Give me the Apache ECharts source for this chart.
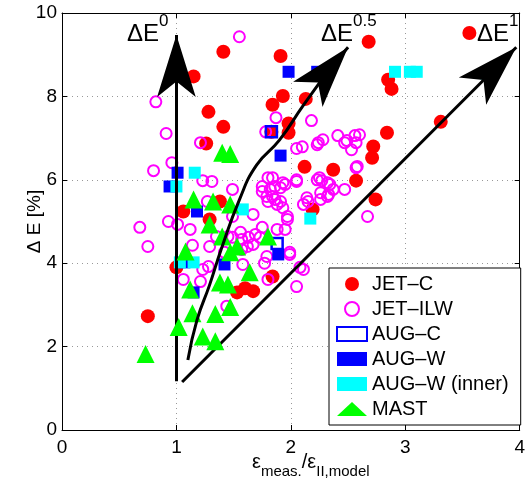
<!DOCTYPE html>
<html lang="en">
<head>
<meta charset="UTF-8">
<title>Delta E vs emissivity ratio</title>
<script src="https://cdn.jsdelivr.net/npm/echarts@6/dist/echarts.min.js"></script>
<style>
  * { margin: 0; padding: 0; box-sizing: border-box; }
  body { background: #fff; }
  #chart { width: 528px; height: 485px; }
</style>
</head>
<body>
<div id="chart"></div>
<script>
// data: [eps_meas/eps_model, Delta E %]
const jetC = [
  [0.75, 2.73], [1.00, 3.90], [1.06, 5.24], [1.15, 8.48], [1.26, 6.87], [1.28, 7.63],
  [1.41, 7.27], [1.41, 9.07], [1.29, 5.05], [1.38, 5.48], [1.53, 3.30], [1.60, 3.40],
  [1.67, 3.33], [1.84, 3.68], [1.83, 7.15], [1.84, 7.80], [1.91, 8.97], [1.93, 8.01],
  [1.98, 7.35], [1.98, 7.13], [2.13, 7.94], [2.12, 6.31], [2.37, 6.24], [2.19, 5.29],
  [2.57, 5.98], [2.74, 5.53], [2.68, 9.31], [2.71, 6.53], [2.72, 6.80], [2.84, 7.13],
  [2.85, 8.40], [2.88, 8.18], [3.31, 7.39], [3.56, 9.52]
];
const jetILW = [
  [0.68, 4.86], [0.75, 4.40], [0.80, 6.22], [0.82, 7.87], [0.91, 7.11], [0.96, 6.41],
  [0.93, 5.00], [1.01, 4.93], [1.12, 4.81], [1.14, 4.43], [1.29, 4.40], [1.35, 4.64],
  [1.28, 3.92], [1.06, 3.61], [1.21, 3.56], [1.23, 5.98], [1.31, 5.96], [1.27, 5.48],
  [1.49, 5.77], [1.55, 9.43], [1.87, 7.49], [1.78, 7.15], [2.18, 7.42], [2.10, 6.79],
  [2.24, 6.89], [2.28, 6.96], [2.41, 7.06], [2.49, 6.94], [2.56, 7.06], [2.57, 6.89],
  [2.60, 7.08], [2.53, 6.72], [2.23, 6.84], [2.05, 6.75], [2.57, 6.29], [2.25, 6.05],
  [2.27, 5.98], [2.05, 6.00], [1.93, 5.93], [1.91, 5.81], [1.84, 6.05], [1.82, 5.77],
  [1.91, 5.48], [1.86, 5.53], [2.34, 5.89], [2.37, 5.77], [2.47, 5.77], [2.32, 5.60],
  [2.26, 5.53], [2.15, 5.48], [2.11, 5.41], [1.97, 5.12], [2.67, 5.12], [1.75, 5.84],
  [1.80, 6.05], [1.86, 5.84], [1.79, 5.60], [1.21, 6.89], [2.47, 6.89], [2.58, 6.32],
  [1.95, 5.89], [2.05, 5.96], [1.75, 5.72], [1.84, 5.60], [1.80, 5.48], [1.88, 5.41],
  [2.23, 6.00], [2.32, 5.93], [2.26, 5.69], [2.33, 5.65], [2.14, 5.57], [1.97, 5.05],
  [1.95, 4.81], [1.88, 4.81], [1.75, 4.86], [1.69, 4.69], [1.63, 4.62], [1.57, 4.57],
  [1.62, 4.40], [1.67, 4.45], [1.57, 4.33], [1.49, 4.62], [1.56, 4.74], [1.45, 4.64],
  [1.42, 4.26], [1.79, 4.16], [1.99, 4.21], [1.77, 4.00], [1.58, 3.97], [1.80, 3.61],
  [2.08, 3.90], [2.05, 3.44], [1.49, 5.12], [1.67, 5.17], [1.73, 4.62], [1.23, 3.85],
  [1.44, 2.97], [1.93, 5.33], [1.99, 4.26], [2.11, 3.85]
];
const augC = [[1.83, 7.15], [1.88, 4.47]];
const augW = [
  [1.98, 8.59], [2.23, 8.59], [1.91, 6.58], [1.89, 4.21], [1.42, 3.97], [1.01, 6.17],
  [0.94, 5.84], [1.18, 5.24], [1.07, 4.02], [1.15, 3.30]
];
const augWInner = [
  [2.91, 8.59], [3.04, 8.59], [3.10, 8.59], [3.71, 8.55], [1.16, 6.17], [1.00, 5.84],
  [1.03, 4.02], [1.15, 4.02], [1.58, 5.29], [2.17, 5.07]
];
const mast = [
  [1.40, 6.65], [1.47, 6.62], [1.15, 5.53], [1.32, 5.48], [1.47, 5.41], [1.29, 4.93],
  [1.08, 4.28], [1.40, 4.64], [1.53, 4.40], [1.47, 4.26], [1.80, 4.64], [1.64, 3.78],
  [1.38, 3.54], [1.45, 3.49], [1.12, 3.37], [1.47, 2.95], [1.34, 2.78], [1.14, 2.80],
  [1.02, 2.47], [1.23, 2.24], [1.34, 2.13], [0.73, 1.82]
];

// guide arrows, [start, tip]
const arrowE0 = [[1.0, 1.17], [1.0, 9.47]];
const arrowE1 = [[1.05, 1.15], [3.97, 9.18]];
const curveE05 = [
  [1.10, 1.68], [1.18, 2.64], [1.29, 3.48], [1.39, 4.32], [1.55, 5.52],
  [1.70, 6.35], [1.90, 6.95], [2.11, 7.79], [2.36, 8.73]
];
const headE05 = [[2.36, 8.73], [2.50, 9.18]];

const FONT = 'Liberation Sans, Arial, Helvetica, sans-serif';

const chart = echarts.init(document.getElementById('chart'));

const axisCommon = {
  axisLine: { show: true, onZero: false, lineStyle: { color: '#000', width: 1 } },
  axisTick: { show: true, inside: true, length: 5, lineStyle: { color: '#000' } }
};

function scatter(name, data, symbol, size, itemStyle, z) {
  return {
    name: name, type: 'scatter', data: data, symbol: symbol, symbolSize: size,
    itemStyle: Object.assign({ opacity: 1 }, itemStyle), z: z, animation: false
  };
}

const supRich = {
  b: { fontSize: 24, lineHeight: 33, verticalAlign: 'bottom', fontFamily: FONT },
  s: { fontSize: 17, verticalAlign: 'top', fontFamily: FONT }
};

chart.setOption({
  animation: false,
  textStyle: { fontFamily: FONT },
  grid: { left: 62, right: 6, top: 13, bottom: 55 },
  xAxis: [
    Object.assign({
      type: 'value', min: 0, max: 4, interval: 1, position: 'bottom',
      axisLabel: { color: '#000', fontSize: 19, margin: 8, fontFamily: FONT },
      splitLine: { show: true, lineStyle: { color: '#999', type: [1, 4], width: 1 } }
    }, axisCommon),
    Object.assign({
      type: 'value', min: 0, max: 4, interval: 1, position: 'top',
      axisLabel: { show: false }, splitLine: { show: false }
    }, axisCommon)
  ],
  yAxis: [
    Object.assign({
      type: 'value', min: 0, max: 10, interval: 2, position: 'left',
      name: 'Δ E [%]', nameLocation: 'middle', nameGap: 18, nameRotate: 90,
      nameMoveOverlap: false,
      nameTextStyle: { color: '#000', fontSize: 19, fontFamily: FONT },
      axisLabel: { color: '#000', fontSize: 19, margin: 5, fontFamily: FONT },
      splitLine: { show: true, lineStyle: { color: '#999', type: [1, 4], width: 1 } }
    }, axisCommon),
    Object.assign({
      type: 'value', min: 0, max: 10, interval: 2, position: 'right',
      axisLabel: { show: false }, splitLine: { show: false }
    }, axisCommon)
  ],
  legend: {
    data: ['JET–C', 'JET–ILW', 'AUG–C', 'AUG–W', 'AUG–W (inner)', 'MAST'],
    orient: 'vertical',
    left: 329, top: 268,
    padding: [6, 12, 6, 7],
    itemWidth: 30, itemHeight: 14, itemGap: 5,
    backgroundColor: '#fff',
    borderColor: '#000', borderWidth: 1, borderRadius: 0,
    textStyle: { color: '#000', fontSize: 20, lineHeight: 20, fontFamily: FONT },
    selectedMode: false
  },
  series: [
    scatter('JET–C', jetC, 'circle', 14, { color: '#ff0000' }, 2),
    scatter('JET–ILW', jetILW, 'circle', 11,
      { color: 'rgba(255,255,255,0)', borderColor: '#ff00ff', borderWidth: 2 }, 3),
    scatter('AUG–C', augC, 'rect', 11,
      { color: 'rgba(255,255,255,0)', borderColor: '#0000ff', borderWidth: 2.5 }, 4),
    scatter('AUG–W', augW, 'rect', 12, { color: '#0000ff' }, 4),
    scatter('AUG–W (inner)', augWInner, 'rect', 12, { color: '#00ffff' }, 4),
    scatter('MAST', mast, 'triangle', 18, { color: '#00ff00' }, 5),
    {
      name: 'guides', type: 'line', data: curveE05, smooth: true, symbol: 'none',
      lineStyle: { color: '#000', width: 3 }, z: 10, silent: true, animation: false,
      markLine: {
        silent: true, animation: false,
        symbol: ['none', 'arrow'], symbolSize: [29, 62],
        lineStyle: { color: '#000', width: 3, type: 'solid' },
        itemStyle: { color: '#000' },
        label: { show: false },
        emphasis: { disabled: true },
        data: [
          [{ coord: arrowE0[0] }, { coord: arrowE0[1] }],
          [{ coord: arrowE1[0] }, { coord: arrowE1[1] }],
          [{ coord: headE05[0] }, { coord: headE05[1] }]
        ]
      }
    }
  ],
  graphic: [
    { type: 'text', left: 127, top: 13, z: 20,
      style: { text: '{b|ΔE}{s|0}', fill: '#000', rich: supRich } },
    { type: 'text', left: 321, top: 13, z: 20,
      style: { text: '{b|ΔE}{s|0.5}', fill: '#000', rich: supRich } },
    { type: 'text', left: 477, top: 13, z: 20,
      style: { text: '{b|ΔE}{s|1}', fill: '#000', rich: supRich } },
    {
      type: 'text', left: 252, top: 452, z: 20,
      style: {
        text: '{a|ε}{b|meas.}{a|/ε}{b|II,model}', fill: '#000',
        rich: {
          a: { fontSize: 20, lineHeight: 27, verticalAlign: 'top', fontFamily: FONT },
          b: { fontSize: 15, verticalAlign: 'bottom', fontFamily: FONT }
        }
      }
    }
  ]
});
</script>
</body>
</html>
